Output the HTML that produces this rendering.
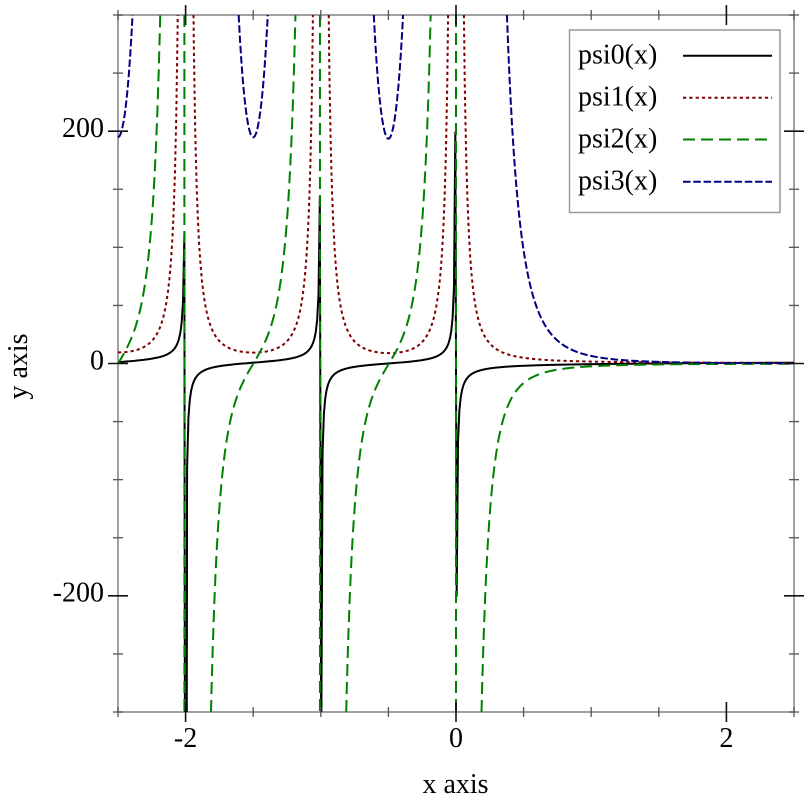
<!DOCTYPE html>
<html>
<head>
<meta charset="utf-8">
<style>
  html,body{margin:0;padding:0;background:#fff;}
  svg{display:block;}
  text{font-family:"Liberation Serif",serif;font-size:28px;fill:#000;}
</style>
</head>
<body>
<svg id="chart" width="812" height="812" viewBox="0 0 812 812" xmlns="http://www.w3.org/2000/svg">
  <rect x="0" y="0" width="812" height="812" fill="#fff"/>
  <!-- frame -->
  <rect x="118" y="15" width="676" height="697" fill="none" stroke="#888" stroke-width="1.6"/>
  <g id="curves"></g>
  <g id="ticks"></g>
  <!-- tick labels -->
  <text x="185.6" y="747" text-anchor="middle">-2</text>
  <text x="456" y="747" text-anchor="middle">0</text>
  <text x="726.4" y="747" text-anchor="middle">2</text>
  <text x="104" y="137" text-anchor="end">200</text>
  <text x="104" y="369.5" text-anchor="end">0</text>
  <text x="104" y="601.5" text-anchor="end">-200</text>
  <!-- axis labels -->
  <text x="455.5" y="793" text-anchor="middle">x axis</text>
  <text transform="translate(27,366.5) rotate(-90)" text-anchor="middle">y axis</text>
  <!-- legend -->
  <rect x="569.5" y="30" width="210.5" height="182.5" fill="#fff" stroke="#999" stroke-width="1.5"/>
  <text x="578" y="63.5">psi0(x)</text>
  <text x="578" y="105.5">psi1(x)</text>
  <text x="578" y="147.5">psi2(x)</text>
  <text x="578" y="189.5">psi3(x)</text>
  <line x1="683" y1="55.7" x2="772" y2="55.7" stroke="#000" stroke-width="2"/>
  <line x1="683" y1="97.7" x2="772" y2="97.7" stroke="#800000" stroke-width="2" stroke-dasharray="3.2 3.1"/>
  <line x1="683" y1="139.5" x2="772" y2="139.5" stroke="#008000" stroke-width="2" stroke-dasharray="12 6"/>
  <line x1="683" y1="181.8" x2="772" y2="181.8" stroke="#000080" stroke-width="2" stroke-dasharray="7.5 2.8"/>
</svg>
<script>
(function(){
  var NS="http://www.w3.org/2000/svg";
  var X0=118, X1=794, Y0=15, Y1=712;
  function px(x){return X0+(x+2.5)*(X1-X0)/5;}
  function py(y){return 363.5-y*(Y1-Y0)/600;}
  function fact(n){var r=1;for(var i=2;i<=n;i++)r*=i;return r;}
  function polygamma(n,x){
    var acc=0;
    var sgn=(n%2===0)?1:-1;
    var nf=fact(n);
    while(x<20){acc-=sgn*nf/Math.pow(x,n+1);x+=1;}
    var B=[1/6,-1/30,1/42,-1/30,5/66,-691/2730];
    var s,k;
    if(n===0){
      s=Math.log(x)-1/(2*x);
      for(k=1;k<=B.length;k++){s-=B[k-1]/(2*k*Math.pow(x,2*k));}
    }else{
      s=fact(n-1)/Math.pow(x,n)+nf/(2*Math.pow(x,n+1));
      for(k=1;k<=B.length;k++){s+=B[k-1]*fact(2*k+n-1)/(fact(2*k)*Math.pow(x,2*k+n));}
      s*=(n%2===1)?1:-1;
    }
    return acc+s;
  }
  function clipSeg(y1,y2,lo,hi){
    var t0=0,t1=1,dy=y2-y1;
    if(!isFinite(y1)||!isFinite(y2))return null;
    if(dy===0){if(y1<lo||y1>hi)return null;}
    else{
      var ta=(lo-y1)/dy,tb=(hi-y1)/dy;
      if(ta>tb){var t=ta;ta=tb;tb=t;}
      t0=Math.max(t0,ta);t1=Math.min(t1,tb);
      if(t0>t1)return null;
    }
    return [t0,t1];
  }
  var N=500, xs=[], i;
  for(i=0;i<N;i++)xs.push(-2.5+i*5/(N-1));
  var styles=[
    {n:0,c:"#000",d:""},
    {n:1,c:"#800000",d:"3.2 3.1"},
    {n:2,c:"#008000",d:"12 6"},
    {n:3,c:"#000080",d:"7.5 2.8"}
  ];
  var g=document.getElementById("curves");
  styles.forEach(function(st){
    var ys=xs.map(function(x){return polygamma(st.n,x);});
    var runs=[],cur=null;
    for(var j=0;j<N-1;j++){
      var x1=xs[j],y1=ys[j],x2=xs[j+1],y2=ys[j+1];
      var r=clipSeg(y1,y2,-300,300);
      if(!r){cur=null;continue;}
      var ax=x1+(x2-x1)*r[0],ay=y1+(y2-y1)*r[0];
      var bx=x1+(x2-x1)*r[1],by=y1+(y2-y1)*r[1];
      if(cur&&r[0]===0){cur.push([bx,by]);}
      else{cur=[[ax,ay],[bx,by]];runs.push(cur);}
      if(r[1]<1)cur=null;
    }
    runs.forEach(function(run){
      var d="";
      run.forEach(function(p,k){d+=(k?"L":"M")+px(p[0]).toFixed(2)+","+py(p[1]).toFixed(2);});
      var path=document.createElementNS(NS,"path");
      path.setAttribute("d",d);
      path.setAttribute("fill","none");
      path.setAttribute("stroke",st.c);
      path.setAttribute("stroke-width","2");
      path.setAttribute("stroke-linejoin","round");
      if(st.d)path.setAttribute("stroke-dasharray",st.d);
      g.appendChild(path);
    });
  });
  // ticks
  var tg=document.getElementById("ticks");
  function line(x1,y1,x2,y2,c,w){
    var l=document.createElementNS(NS,"line");
    l.setAttribute("x1",x1);l.setAttribute("y1",y1);l.setAttribute("x2",x2);l.setAttribute("y2",y2);
    l.setAttribute("stroke",c);l.setAttribute("stroke-width",w);
    tg.appendChild(l);
  }
  for(i=0;i<=10;i++){
    var xv=-2.5+i*0.5, X=px(xv);
    var major=(Math.abs(xv+2)<1e-9||Math.abs(xv)<1e-9||Math.abs(xv-2)<1e-9);
    var L=major?10:5, c=major?"#111":"#555", w=major?1.6:1.3;
    line(X,Y1-L,X,Y1+L,c,w);
    line(X,Y0-L,X,Y0+L,c,w);
  }
  for(i=0;i<=12;i++){
    var yv=-300+i*50, Y=py(yv);
    var majorY=(yv===-200||yv===0||yv===200);
    var L2=majorY?10:5, c2=majorY?"#111":"#555", w2=majorY?1.6:1.3;
    line(X0-L2,Y,X0+L2,Y,c2,w2);
    line(X1-L2,Y,X1+L2,Y,c2,w2);
  }
})();
</script>
</body>
</html>
